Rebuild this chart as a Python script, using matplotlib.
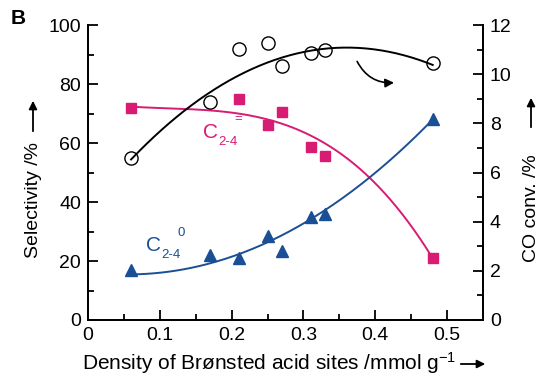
import numpy as np
import matplotlib
matplotlib.use("Agg")
import matplotlib.pyplot as plt

plt.rcParams['font.family'] = ['Liberation Sans', 'DejaVu Sans']
plt.rcParams['mathtext.fontset'] = 'custom'
plt.rcParams['mathtext.rm'] = 'Liberation Sans'
plt.rcParams['mathtext.it'] = 'Liberation Sans'

# Data
density = [0.06, 0.17, 0.21, 0.25, 0.27, 0.31, 0.33, 0.48]
co_conv = [6.6, 8.88, 11.04, 11.28, 10.32, 10.86, 10.98, 10.44]       # right axis, %
olefin_x = [0.06, 0.21, 0.25, 0.27, 0.31, 0.33, 0.48]
olefin_sel = [72, 75, 66, 70.5, 58.5, 55.5, 21]                       # C2-4 =
paraffin_sel = [17, 22, 21, 28.5, 23.5, 35, 36, 68]                   # C2-4 0

# Trend-curve anchor values
co_curve_x = [0.06, 0.156, 0.253, 0.346, 0.48]
co_curve_y = [6.54, 8.95, 10.56, 11.04, 10.38]
ole_curve_x = [0.06, 0.14, 0.25, 0.31, 0.36, 0.41, 0.45, 0.48]
ole_curve_y = [72, 72.3, 67.5, 62, 55, 44, 33, 20]
par_curve_x = [0.06, 0.2, 0.25, 0.31, 0.37, 0.48]
par_curve_y = [15.5, 21, 27, 34, 44, 68]

pink = '#d81b73'
blue = '#1a4f95'

fig = plt.figure(figsize=(5.4, 3.75), dpi=100)
ax = fig.add_axes([88/540, 1-320/375, (483-88)/540, (320-25)/375])
ax2 = ax.twinx()

xs = np.linspace(0.06, 0.48, 200)
def fitcurve(x, y, deg):
    return np.polyval(np.polyfit(x, y, deg), xs)

ax.plot(xs, fitcurve(ole_curve_x, ole_curve_y, 3), color=pink, lw=1.4)
ax.plot(xs, fitcurve(par_curve_x, par_curve_y, 3), color=blue, lw=1.4)
ax2.plot(xs, fitcurve(co_curve_x, co_curve_y, 3), color='black', lw=1.4)

ax.plot(olefin_x, olefin_sel, 's', color=pink, ms=7, mec=pink, clip_on=False)
ax.plot(density, paraffin_sel, '^', color=blue, ms=9, mec=blue, clip_on=False)
ax2.plot(density, co_conv, 'o', mfc='none', mec='black', ms=9.5, mew=1.0, clip_on=False)

ax.set_xlim(0, 0.55)
ax.set_ylim(0, 100)
ax2.set_ylim(0, 12)
ax.set_xticks([0, 0.1, 0.2, 0.3, 0.4, 0.5])
ax.set_xticklabels(['0', '0.1', '0.2', '0.3', '0.4', '0.5'])
ax.set_xticks(np.arange(0.05, 0.55, 0.1), minor=True)
ax.set_yticks([0, 20, 40, 60, 80, 100])
ax.set_yticks([10, 30, 50, 70, 90], minor=True)
ax2.set_yticks([0, 2, 4, 6, 8, 10, 12])
ax2.set_yticks([1, 3, 5, 7, 9, 11], minor=True)

for a in (ax, ax2):
    a.spines['top'].set_visible(False)
    for s in a.spines.values():
        s.set_linewidth(1.3)
ax.tick_params(axis='both', which='major', direction='in', length=7, width=1.3, labelsize=14, pad=5)
ax.tick_params(axis='both', which='minor', direction='in', length=4, width=1.3)
ax2.tick_params(axis='y', which='major', direction='in', length=7, width=1.3, labelsize=14, pad=5)
ax2.tick_params(axis='y', which='minor', direction='in', length=4, width=1.3)

# Axis labels with arrows
fig.text(33/540, 1-200/375, 'Selectivity /%', rotation=90, ha='center', va='center', fontsize=14)
ax.annotate('', xy=(33/540, 1-98/375), xytext=(33/540, 1-134/375), xycoords='figure fraction',
            arrowprops=dict(arrowstyle='-|>', color='black', lw=1.3, mutation_scale=12))
fig.text(531/540, 1-208/375, 'CO conv. /%', rotation=90, ha='center', va='center', fontsize=14)
ax.annotate('', xy=(531/540, 1-95/375), xytext=(531/540, 1-130/375), xycoords='figure fraction',
            arrowprops=dict(arrowstyle='-|>', color='black', lw=1.3, mutation_scale=12))
fig.text(82/540, 1-363/375, 'Density of Brønsted acid sites /mmol g$^{-1}$', ha='left', va='center', fontsize=15)
ax.annotate('', xy=(488/540, 1-364/375), xytext=(458/540, 1-364/375), xycoords='figure fraction',
            arrowprops=dict(arrowstyle='-|>', color='black', lw=1.3, mutation_scale=12))

fig.text(11/540, 1-18/375, 'B', fontsize=15, fontweight='bold', ha='left', va='center')

# Series labels
ax.text(0.160, 63.7, 'C', color=pink, fontsize=15, ha='left', va='center')
ax.text(0.181, 60.5, '2-4', color=pink, fontsize=9.5, ha='left', va='center')
ax.text(0.204, 68, '=', color=pink, fontsize=9.5, ha='left', va='center')
ax.text(0.081, 25.4, 'C', color=blue, fontsize=15, ha='left', va='center')
ax.text(0.102, 22.2, '2-4', color=blue, fontsize=9.5, ha='left', va='center')
ax.text(0.124, 29.5, '0', color=blue, fontsize=9.5, ha='left', va='center')

# Curved arrow pointing to right axis
ax.annotate('', xy=(0.43, 80.5), xytext=(0.373, 88.5),
            arrowprops=dict(arrowstyle='-|>', color='black', lw=1.2, mutation_scale=13,
                            connectionstyle='arc3,rad=0.35'))

fig.savefig('out.png', dpi=100)
